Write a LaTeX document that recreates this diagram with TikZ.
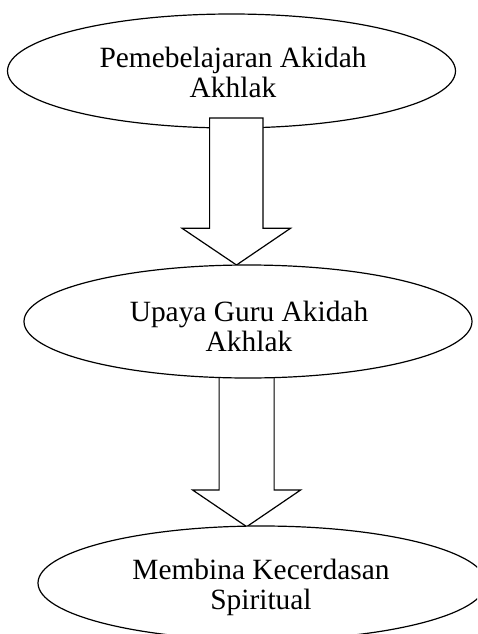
\documentclass[tikz,border=0pt]{standalone}
\usepackage{fontspec}
\setmainfont{Liberation Serif}
\usetikzlibrary{shapes.geometric,calc}
\tikzset{
  oval/.style={ellipse, draw=black, line width=1.2pt, fill=white, inner sep=0pt,
    minimum width=448pt, minimum height=114pt},
  labeltext/.style={align=center, inner sep=0pt, font=\fontsize{29.4}{30}\selectfont},
  blockarrow/.style={draw=black, line width=1.2pt, fill=white, line join=miter},
}
\begin{document}
\begin{tikzpicture}[x=1pt,y=-1pt]
\useasboundingbox (0,0) rectangle (477,634);
\clip (0,0) rectangle (477,634);
% first ellipse
\node[oval] (e1) at (231.5,71) {};
\node[labeltext] (t1) at (233,72) {Pemebelajaran Akidah\\Akhlak};
% arrow 1
\coordinate (a1s) at (236.3,118);
\coordinate (a1t) at (236.5,265);
\draw[blockarrow] let \p1=(a1s), \p2=(a1t) in
  (\x1-26.7pt,\y1) -- (\x1+26.7pt,\y1) -- (\x1+26.7pt,\y2+36.7pt) -- (\x1+54.2pt,\y2+36.7pt)
  -- (\x2,\y2) -- (\x1-54.2pt,\y2+36.7pt) -- (\x1-26.7pt,\y2+36.7pt) -- cycle;
% arrow 2
\coordinate (a2s) at (246.6,360);
\coordinate (a2t) at (246.7,526.7);
\draw[blockarrow] let \p1=(a2s), \p2=(a2t) in
  (\x1-27.5pt,\y1) -- (\x1+27.5pt,\y1) -- (\x1+27.5pt,\y2+36.7pt) -- (\x1+54pt,\y2+36.7pt)
  -- (\x2,\y2) -- (\x1-54pt,\y2+36.7pt) -- (\x1-27.5pt,\y2+36.7pt) -- cycle;
% second ellipse
\node[oval, minimum height=113pt] (e2) at (248,321.5) {};
\node[labeltext] (t2) at (249,326) {Upaya Guru Akidah\\Akhlak};
% third ellipse
\node[oval] (e3) at (262,583) {};
\node[labeltext] (t3) at (261,587) {Membina Kecerdasan\\Spiritual};
\end{tikzpicture}
\end{document}
